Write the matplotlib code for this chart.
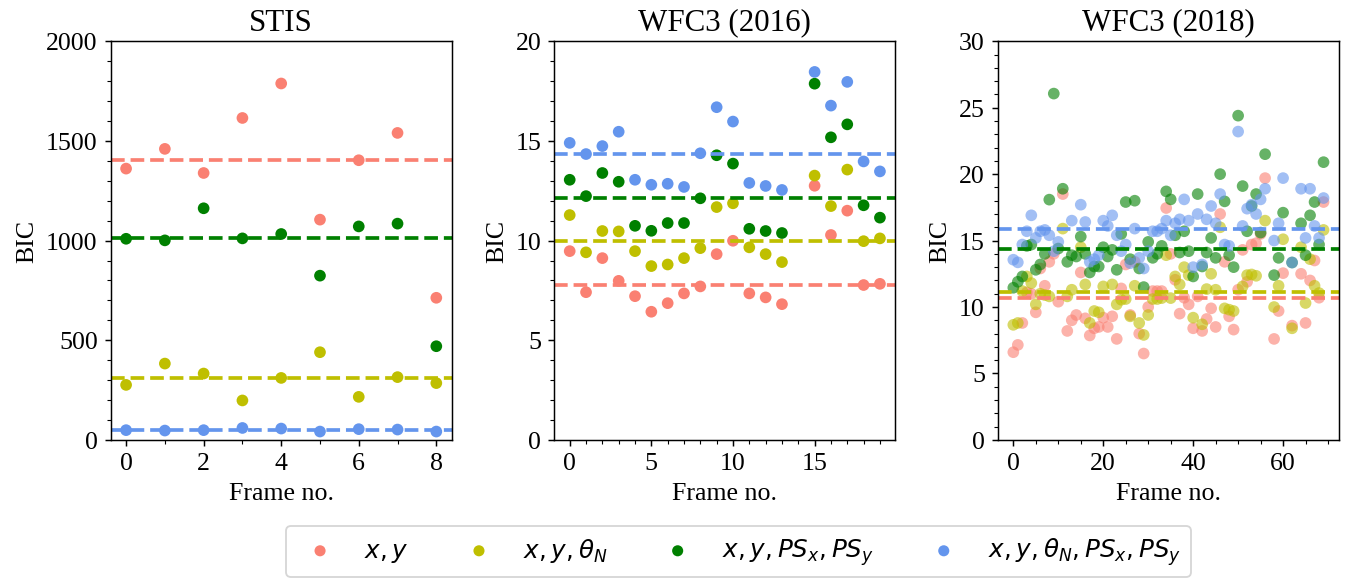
import numpy as np
import matplotlib
matplotlib.use("Agg")
import matplotlib.pyplot as plt
from matplotlib.ticker import MultipleLocator

nan = np.nan

# ---------------- data ----------------
titles = ["STIS", "WFC3 (2016)", "WFC3 (2018)"]
labels = [r"$x, y$", r"$x, y, \theta_N$", r"$x, y, PS_x, PS_y$",
          r"$x, y, \theta_N, PS_x, PS_y$"]
colors = ["salmon", "y", "g", "cornflowerblue"]

# STIS
stis_xy = [1361, 1460, 1339, 1615, 1788, 1105, 1403, 1540, 713]
stis_xyt = [276, 383, 333, 198, 311, 440, 216, 315, 285]
stis_xyps = [1009, 1001, 1162, 1011, 1033, 824, 1071, 1085, 470]
stis_all = [49, 47, 49, 60, 57, 42, 54, 52, 42]

# WFC3 2016
w16_xy = [9.47, 7.41, 9.12, 7.98, 7.21, 6.43, 6.86, 7.35, 7.70, 9.32,
          9.99, 7.35, 7.15, 6.81, nan, 12.75, 10.28, 11.50, 7.77, 7.83]
w16_xyt = [11.28, 9.41, 10.48, 10.46, 9.47, 8.72, 8.80, 9.12, 9.62, 11.68,
           11.87, 9.66, 9.32, 8.92, nan, 13.26, 11.73, 13.56, 9.97, 10.11]
w16_xyps = [13.05, 12.23, 13.39, 12.95, 10.74, 10.49, 10.88, 10.88, 12.12, 14.28,
            13.86, 10.59, 10.48, 10.38, nan, 17.87, 15.18, 15.83, 11.77, 11.15]
w16_all = [14.90, 14.34, 14.74, 15.46, 13.05, 12.80, 12.85, 12.69, 14.38, 16.69,
           15.97, 12.89, 12.74, 12.54, nan, 18.46, 16.77, 17.96, 13.97, 13.47]

# WFC3 2018
w18_xy = [6.6, 7.15, 8.8, 11.1, 11.0, 9.6, 12.9, 11.6, 13.4, 14.0,
          10.4, 18.5, 8.2, 9.0, 9.4, 12.6, 9.15, 7.86, 8.4, 8.5,
          9.2, 8.5, 9.3, 7.6, 11.4, 13.2, 9.4, 13.4, 8.0, 6.5,
          10.0, 11.2, 11.2, 11.2, 17.45, 14.0, 12.05, 9.5, 10.7, 10.2,
          8.4, 10.8, 8.2, 9.1, 9.9, 8.5, 17.0, 13.4, 9.3, 8.3,
          11.3, 14.3, 11.9, 14.7, 14.8, 15.5, 19.7, nan, 7.6, 9.7,
          12.55, nan, 8.6, nan, 12.5, 8.8, 12.0, 13.5, 10.7, 17.9]
w18_xyt = [8.66, 8.8, 11.2, 12.3, 11.8, 10.2, 11.0, 10.9, 10.8, nan,
           nan, 15.9, 10.8, 11.3, nan, 14.5, 11.7, 8.8, 9.7, 9.6,
           11.55, nan, 11.7, 10.2, 10.55, 10.6, 9.3, 11.6, 8.8, 7.9,
           9.4, 10.6, 10.6, 10.67, 13.9, 10.67, 12.3, 11.7, 13.0, 12.4,
           9.2, nan, 8.7, 11.35, 12.5, 11.3, 16.0, 9.9, 9.8, 9.7,
           nan, 11.55, 12.4, 12.45, 12.35, nan, 16.5, nan, 10.0, 11.6,
           15.1, nan, 8.4, nan, 14.5, 10.3, 13.6, 11.6, 11.05, 15.8]
w18_xyps = [11.45, 11.9, 12.3, 14.6, 14.7, 12.8, 13.2, 14.0, 18.08, 26.06,
            14.4, 18.9, 13.4, 13.9, 13.8, 15.3, 14.0, 12.6, 13.05, 13.05,
            14.5, 13.8, 14.3, 12.8, 15.5, 17.9, 13.6, 18.0, 12.9, 11.5,
            14.9, 13.7, 14.0, 14.6, 18.7, 18.1, 15.4, 14.1, 15.7, 14.2,
            12.3, 18.5, 13.05, 14.1, 15.2, 13.7, 20.0, 17.95, 13.9, 13.0,
            24.4, 19.1, 15.7, 17.6, 18.5, 15.6, 21.5, nan, 12.4, 13.7,
            17.1, nan, 13.35, nan, 16.3, 13.9, 16.9, 17.9, 14.7, 20.9]
w18_all = [13.56, 13.36, 14.7, 15.7, 16.9, 15.2, 15.7, 15.8, 15.4, 14.2,
           14.9, nan, nan, 16.5, nan, 17.7, 16.4, 13.4, 13.6, 13.9,
           16.5, 16.1, 16.9, 15.4, 14.2, 14.7, 13.3, 15.9, 13.7, 12.9,
           14.2, 15.7, 15.7, 15.9, 16.5, 15.4, 16.3, 16.6, 18.1, 16.5,
           13.0, 17.0, 13.2, 16.6, 17.6, 16.3, 18.5, 14.7, 14.6, nan,
           23.2, 16.1, 17.4, 17.7, 17.0, 18.1, 18.9, nan, 15.0, 16.3,
           19.7, nan, 13.35, nan, 18.9, 15.2, 18.9, 16.1, 15.2, 18.2]

panels = [
    [stis_xy, stis_xyt, stis_xyps, stis_all],
    [w16_xy, w16_xyt, w16_xyps, w16_all],
    [w18_xy, w18_xyt, w18_xyps, w18_all],
]
ylims = [(0, 2000), (0, 20), (0, 30)]
ymajor = [500, 5, 5]
yminor = [100, 1, 1]
xmajor = [2, 5, 20]
xminor = [1, 1, 5]
alphas = [1.0, 1.0, 0.6]

# ---------------- style ----------------
plt.rcParams["font.family"] = ["Liberation Serif", "DejaVu Serif"]
plt.rcParams["font.size"] = 14
plt.rcParams["mathtext.fontset"] = "dejavusans"

DPI = 133
fig, axes = plt.subplots(1, 3, figsize=(1348.5 / DPI, 579.5 / DPI), dpi=DPI)
fig.subplots_adjust(left=0.082, right=0.993, top=0.928, bottom=0.240, wspace=0.30)

handles = []
for i, ax in enumerate(axes):
    for j, series in enumerate(panels[i]):
        y = np.array(series, dtype=float)
        x = np.arange(len(y))
        ax.scatter(x, y, color=colors[j], alpha=alphas[i], edgecolors="none",
                   s=40, label=labels[j])
        ax.axhline(np.nanmedian(y), color=colors[j], ls="--", lw=2)
        if i == 0:
            handles.append(ax.scatter([], [], color=colors[j], s=36,
                                      edgecolors="none", label=labels[j]))
    ax.set_ylim(*ylims[i])
    ax.yaxis.set_major_locator(MultipleLocator(ymajor[i]))
    ax.yaxis.set_minor_locator(MultipleLocator(yminor[i]))
    ax.xaxis.set_major_locator(MultipleLocator(xmajor[i]))
    ax.xaxis.set_minor_locator(MultipleLocator(xminor[i]))
    ax.set_title(titles[i])
    ax.set_xlabel("Frame no.")
    ax.set_ylabel("BIC")

fig.legend(handles=handles, labels=labels, loc="lower center",
           bbox_to_anchor=(0.5475, 0.003), borderaxespad=0, ncol=4,
           fontsize=13.3, columnspacing=1.85)

fig.savefig("out.png", dpi=DPI)
